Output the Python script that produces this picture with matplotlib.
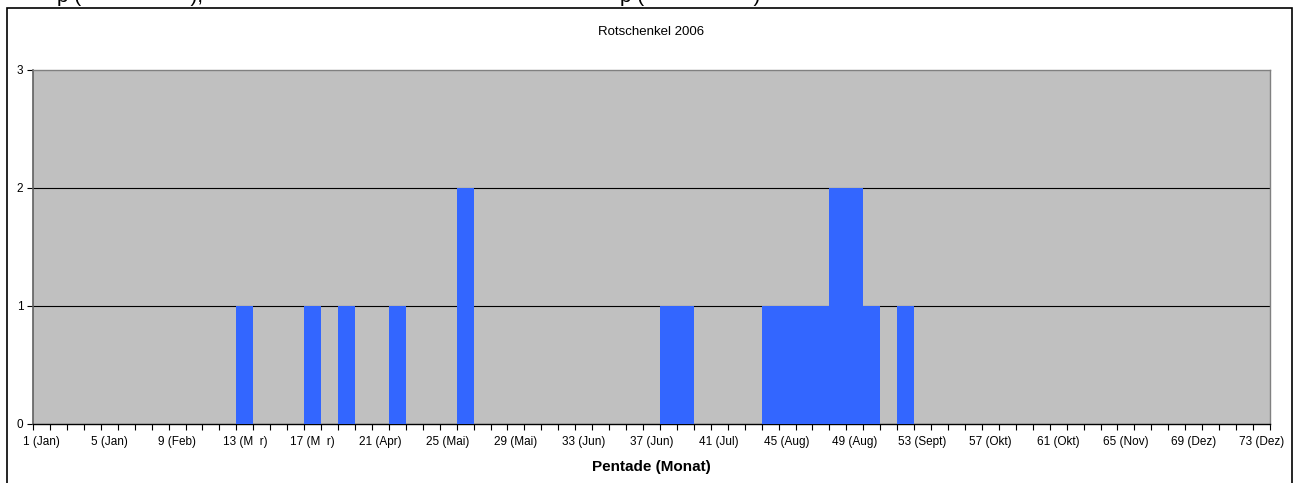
import matplotlib.pyplot as plt
from matplotlib.patches import Rectangle

plt.rcParams['font.family'] = ['Liberation Sans', 'DejaVu Sans']

# Pentaden 1..73, Anzahl Beobachtungen
pentads = list(range(1, 74))
counts = [0, 0, 0, 0, 0, 0, 0, 0, 0, 0,
          0, 0, 1, 0, 0, 0, 1, 0, 1, 0,
          0, 1, 0, 0, 0, 2, 0, 0, 0, 0,
          0, 0, 0, 0, 0, 0, 0, 1, 1, 0,
          0, 0, 0, 1, 1, 1, 1, 2, 2, 1,
          0, 1, 0, 0, 0, 0, 0, 0, 0, 0,
          0, 0, 0, 0, 0, 0, 0, 0, 0, 0,
          0, 0, 0]
label_pos = [1, 5, 9, 13, 17, 21, 25, 29, 33, 37, 41, 45, 49, 53, 57, 61, 65, 69, 73]
label_txt = ["1 (Jan)", "5 (Jan)", "9 (Feb)", "13 (M  r)", "17 (M  r)", "21 (Apr)",
             "25 (Mai)", "29 (Mai)", "33 (Jun)", "37 (Jun)", "41 (Jul)", "45 (Aug)",
             "49 (Aug)", "53 (Sept)", "57 (Okt)", "61 (Okt)", "65 (Nov)", "69 (Dez)",
             "73 (Dez)"]
y_ticks = [0, 1, 2, 3]

fig = plt.figure(figsize=(12.97, 4.83), dpi=100)

# Rahmen um das Diagramm (unten abgeschnitten)
fig.patches.append(Rectangle((7/1297, -0.05), 1285/1297, 1.05 - 8/483,
                             transform=fig.transFigure, fill=False,
                             edgecolor='black', linewidth=1.2))
# abgeschnittene Überschriften oben
fig.text(57/1297, 1 - 2/483, "p (                   ),", fontsize=15, va='baseline')
fig.text(620/1297, 1 - 2/483, "p (                   )", fontsize=15, va='baseline')

ax = fig.add_axes([33/1297, 1 - 424/483, (1270 - 33)/1297, (424 - 69.5)/483])
ax.set_facecolor('#C0C0C0')
ax.bar(pentads, counts, width=1.0, color='#3366FF', linewidth=0, zorder=3)

ax.set_xlim(0.5, 73.5)
ax.set_ylim(0, 3)
ax.set_yticks(y_ticks)
for y in [1, 2]:
    ax.axhline(y, color='black', linewidth=0.8, zorder=2)

ax.set_xticks(label_pos)
ax.set_xticklabels(label_txt, fontsize=8.5)
ax.set_xticks([i + 0.5 for i in range(0, 74)], minor=True)
ax.tick_params(axis='x', which='major', length=0, pad=9)
ax.tick_params(axis='x', which='minor', length=4, width=0.8, direction='out')
ax.tick_params(axis='y', length=4, width=0.8, labelsize=8.5, pad=3)

for s in ['top', 'right']:
    ax.spines[s].set_color('#808080')
    ax.spines[s].set_linewidth(1)
ax.spines['left'].set_color('#606060')
ax.spines['left'].set_linewidth(1.2)
ax.spines['bottom'].set_color('black')
ax.spines['bottom'].set_linewidth(1)

fig.text(651/1297, 1 - 32/483, "Rotschenkel 2006", fontsize=9.5, ha='center', va='center')
fig.text(651/1297, 1 - 467/483, "Pentade (Monat)", fontsize=11, fontweight='bold',
         ha='center', va='center')

plt.savefig('out.png', dpi=100)
